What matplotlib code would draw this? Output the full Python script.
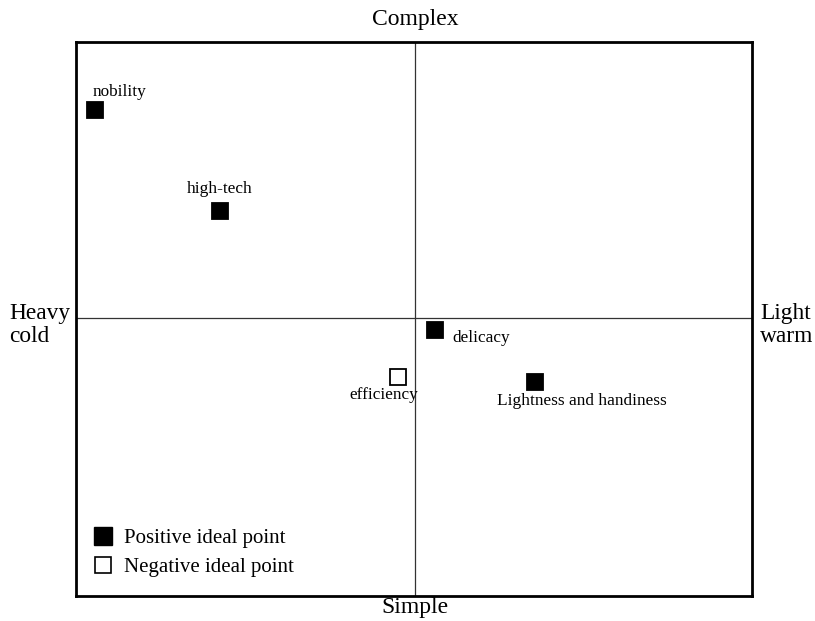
import matplotlib

matplotlib.use("Agg")
import matplotlib.pyplot as plt
from matplotlib.lines import Line2D

# positions on the two perceptual axes (x: heavy/cold -> light/warm, y: simple -> complex)
labels = ["nobility", "high-tech", "delicacy", "efficiency", "Lightness and handiness"]
xs = [-0.943, -0.574, 0.060, -0.050, 0.353]
ys = [0.754, 0.388, -0.043, -0.214, -0.232]
positive = [True, True, True, False, True]

plt.rcParams["font.family"] = ["Liberation Serif", "DejaVu Serif"]

fig = plt.figure(figsize=(8.15, 6.21), dpi=100)
ax = fig.add_axes([75.5 / 815, 25 / 621, (752 - 75.5) / 815, (596 - 42) / 621])
ax.set_xlim(-1.0, 0.993)
ax.set_ylim(-1.007, 1.0)
ax.set_xticks([])
ax.set_yticks([])
for s in ax.spines.values():
    s.set_linewidth(2.0)

ax.axhline(0, color="#333333", lw=0.9, zorder=1)
ax.axvline(0, color="#333333", lw=0.9, zorder=1)

for x, y, pos in zip(xs, ys, positive):
    ax.plot(x, y, marker="s", ms=11.5, mfc="black" if pos else "white",
            mec="black", mew=1.3, ls="none", zorder=3)

# label offsets in points relative to the markers
offsets = {
    "nobility": (-1.5, 7, "left", "bottom"),
    "high-tech": (0, 10, "center", "bottom"),
    "delicacy": (12, -6, "left", "center"),
    "efficiency": (-10, -7, "center", "top"),
    "Lightness and handiness": (34, -8, "center", "top"),
}
for lab, x, y in zip(labels, xs, ys):
    dx, dy, ha, va = offsets[lab]
    ax.annotate(lab, (x, y), xytext=(dx, dy), textcoords="offset points",
                ha=ha, va=va, fontsize=12.4)

handles = [
    Line2D([], [], marker="s", ms=13, mfc="black", mec="black", ls="none"),
    Line2D([], [], marker="s", ms=12, mfc="white", mec="black", mew=1.2, ls="none"),
]
ax.legend(handles, ["Positive ideal point", "Negative ideal point"], loc="lower left",
          bbox_to_anchor=(-0.011, 0.0), frameon=False, fontsize=15,
          handletextpad=0.2, labelspacing=0.45, handlelength=1.6)

fig.text(415 / 815, 1 - 20 / 621, "Complex", ha="center", va="center", fontsize=17)
fig.text(415 / 815, 1 - 608 / 621, "Simple", ha="center", va="center", fontsize=17)
fig.text(9 / 815, 1 - 325 / 621, "Heavy\ncold", ha="left", va="center", fontsize=16.8,
         linespacing=1.15)
fig.text(760 / 815, 1 - 325 / 621, "Light\nwarm", ha="left", va="center", fontsize=16.8,
         linespacing=1.15)

fig.savefig("out.png", dpi=100)
